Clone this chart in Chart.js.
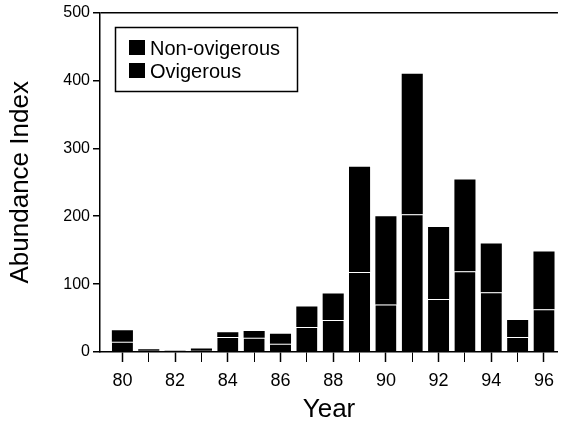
<!DOCTYPE html>
<html>
<head>
<meta charset="utf-8">
<script src="https://cdn.jsdelivr.net/npm/chart.js@4"></script>
<style>
html,body{margin:0;padding:0;background:#fff;}
#wrap{width:562px;height:427px;position:relative;}
</style>
</head>
<body>
<div id="wrap"><canvas id="c" width="562" height="427"></canvas></div>
<script>
const years = [80,81,82,83,84,85,86,87,88,89,90,91,92,93,94,95,96];
const nonOvigerous = [15,2,1,2,22,21,12,37,47,118,70,203,78,119,88,22,63];
const ovigerous    = [17,2,1,3,7,10,15,30,39,155,130,207,106,135,72,25,85];
const yTicks = [0,50,100,150,200,250,300,350,400,450,500];
const seriesNames = ['Non-ovigerous','Ovigerous'];

const FONT = "'Liberation Sans', Arial, Helvetica, sans-serif";

const insideLegend = {
  id: 'insideLegend',
  afterDraw(chart) {
    const ctx = chart.ctx;
    ctx.save();
    ctx.strokeStyle = '#000';
    ctx.lineWidth = 1.5;
    ctx.strokeRect(115.5, 27.5, 182, 64);
    ctx.font = '20px ' + FONT;
    ctx.textBaseline = 'middle';
    chart.data.datasets.forEach((ds, i) => {
      const y = 48 + i * 23;
      ctx.fillStyle = '#000';
      ctx.fillRect(129, y - 8, 16, 15);
      ctx.fillText(ds.label, 150, y + 1);
    });
    ctx.restore();
  }
};

new Chart(document.getElementById('c'), {
  type: 'bar',
  data: {
    datasets: [
      {
        label: seriesNames[0],
        data: years.map((x, i) => ({x: x, y: nonOvigerous[i]})),
        backgroundColor: '#000',
        borderColor: 'rgba(255,255,255,0.75)',
        borderWidth: {top: 1, left: 0, right: 0, bottom: 0},
        borderSkipped: false
      },
      {
        label: seriesNames[1],
        data: years.map((x, i) => ({x: x, y: ovigerous[i]})),
        backgroundColor: '#000',
        borderWidth: 0
      }
    ]
  },
  options: {
    responsive: false,
    animation: false,
    devicePixelRatio: 1,
    layout: {padding: {top: 11, right: 0, left: 0, bottom: 0}},
    plugins: {legend: {display: false}, tooltip: {enabled: false}},
    datasets: {bar: {categoryPercentage: 1, barPercentage: 0.8}},
    scales: {
      x: {
        type: 'linear',
        stacked: true,
        offset: false,
        min: 79.15,
        max: 96.53,
        afterBuildTicks: (s) => { s.ticks = years.map(v => ({value: v})); },
        afterFit: (s) => { s.height = 75; },
        border: {display: true, color: '#000', width: 1.5},
        grid: {display: true, offset: false, drawOnChartArea: false, drawTicks: true, tickLength: 10, tickColor: '#000',
               tickWidth: (c) => (c.tick && c.tick.value % 2 === 0) ? 1.5 : 1},
        ticks: {
          color: '#000', font: {family: FONT, size: 18}, padding: 8, maxRotation: 0, autoSkip: false,
          callback: (v) => (v % 2 === 0 ? String(v) : '')
        },
        title: {display: true, text: 'Year', color: '#000', font: {family: FONT, size: 26}, padding: {top: 0, bottom: 2}}
      },
      y: {
        stacked: true,
        min: 0,
        max: 500,
        afterBuildTicks: (s) => { s.ticks = yTicks.map(v => ({value: v})); },
        afterFit: (s) => { s.width = 100; },
        border: {display: true, color: '#000', width: 1.5},
        grid: {
          drawOnChartArea: true, drawTicks: true, tickLength: 7,
          color: (c) => (c.tick && c.tick.value === 500) ? '#000' : 'rgba(0,0,0,0)',
          lineWidth: 1.5,
          tickColor: (c) => (c.tick && c.tick.value % 100 === 0) ? '#000' : 'rgba(0,0,0,0)'
        },
        ticks: {
          color: '#000', font: {family: FONT, size: 16}, padding: 3,
          callback: (v) => (v % 100 === 0 ? String(v) : '')
        },
        title: {display: true, text: 'Abundance Index', color: '#000', font: {family: FONT, size: 26}, padding: {top: 5, bottom: 0}}
      }
    }
  },
  plugins: [insideLegend]
});
</script>
</body>
</html>
